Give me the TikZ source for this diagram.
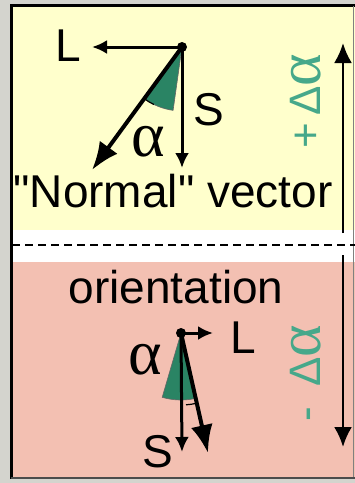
\documentclass[tikz,border=0pt]{standalone}
\usepackage{fontspec}
\setmainfont{Liberation Sans}[Ligatures=TeXOff]
\newfontfamily\greekfont{Liberation Serif}
\usetikzlibrary{positioning,arrows.meta,calc}
\definecolor{paleyellow}{RGB}{255,255,204}
\definecolor{palepink}{RGB}{243,192,178}
\definecolor{wedgegreen}{RGB}{42,132,100}
\definecolor{textgreen}{RGB}{70,168,138}
\definecolor{rimgray}{RGB}{212,212,206}

\begin{document}
\begin{tikzpicture}[x=1pt,y=-1pt,
  font=\fontsize{46}{50}\selectfont,
  pivot/.style={circle,fill=black,inner sep=0pt,minimum size=10pt},
  lbl/.style={inner sep=0pt},
  greek/.style={inner sep=0pt,font=\greekfont\fontsize{64}{66}\selectfont},
  vec/.style={-{Latex[length=15pt,width=14pt]},line width=3pt},
  nvec/.style={-{Latex[length=28pt,width=22pt]},line width=4pt},
  spanarrow/.style={-{Latex[length=20pt,width=18pt]},line width=2.5pt},
  wedge/.style={fill=wedgegreen,draw=black!60,line width=0.6pt},
  tilt/.style={rotate=90,inner sep=0pt,text=textgreen,font=\fontsize{44}{46}\selectfont}]
\useasboundingbox (0,0) rectangle (355,483);
% frame and the two panels
\fill[rimgray] (0,0) rectangle (355,483);
\fill[paleyellow] (11,6) rectangle (355,230);
\fill[white] (11,230) rectangle (355,262);
\fill[palepink] (11,262) rectangle (355,477);
\draw[line width=3pt] (10,5) -- (355,5);
\draw[line width=3pt] (11,4) -- (11,479);
\draw[black!70,line width=1.5pt] (11,478) -- (355,478);
\draw[gray,line width=0.8pt] (353,6) -- (353,477);
\draw[dashed,dash pattern=on 8pt off 5pt,line width=1.6pt] (12,245) -- (355,245);

% top: normal vector
\coordinate (tpiv) at (182,47);
\coordinate (tLtip) at ($(tpiv)+(-90,0)$);
\coordinate (tStip) at ($(tpiv)+(0,121)$);
\coordinate (tNtip) at ($(tpiv)+(-90,123)$);
\fill[wedge] (tpiv) -- ++(126.2:64) arc[start angle=126.2,end angle=98,radius=64] -- cycle;
\draw[line width=1.2pt] ($(tpiv)+(126.2:64)$) arc[start angle=126.2,end angle=116,radius=64];
\draw[vec] (tpiv) -- (tLtip);
\draw[vec] (tpiv) -- (tStip);
\draw[nvec] (tpiv) -- (tNtip);
\node[pivot] (tdot) at (tpiv) {};
\node[lbl] (tL) at (68,46) {L};
\node[lbl] (tS) at (209,110) {S};
\node[greek] (talpha) at (148,142) {α};
\node[anchor=base,inner sep=0pt] (normal) at (173,207) {"Normal" vector};

% bottom: orientation
\node[anchor=base,inner sep=0pt] (orient) at (176,303) {orientation};
\coordinate (bpiv) at (181,333);
\coordinate (bLtip) at ($(bpiv)+(32,0)$);
\coordinate (bStip) at ($(bpiv)+(1,119)$);
\coordinate (bNtip) at ($(bpiv)+(27,120)$);
\fill[wedge] (bpiv) -- ++(106.3:67) arc[start angle=106.3,end angle=77.3,radius=67] -- cycle;
\draw[line width=1.2pt] ($(bpiv)+(77.3:72)$) arc[start angle=77.3,end angle=86,radius=72];
\draw[vec] (bpiv) -- (bLtip);
\draw[vec] (bpiv) -- (bStip);
\draw[nvec] (bpiv) -- (bNtip);
\node[pivot] (bdot) at (bpiv) {};
\node[lbl] (bL) at (243,338) {L};
\node[lbl] (bS) at (158,452) {S};
\node[greek] (balpha) at (145,360) {α};

% range of the angle on the right
\coordinate (upend) at (343,43);
\coordinate (upstart) at (343,233);
\coordinate (downstart) at (343,255);
\coordinate (downend) at (343,447);
\draw[spanarrow] (upstart) -- (upend);
\draw[spanarrow] (downstart) -- (downend);
\node[tilt] (plus) at (306,101) {+\,Δ{\greekfont\fontsize{62}{64}\selectfont α}};
\node[tilt] (minus) at (306,373) {-\ \,Δ{\greekfont\fontsize{62}{64}\selectfont α}};
\end{tikzpicture}
\end{document}
